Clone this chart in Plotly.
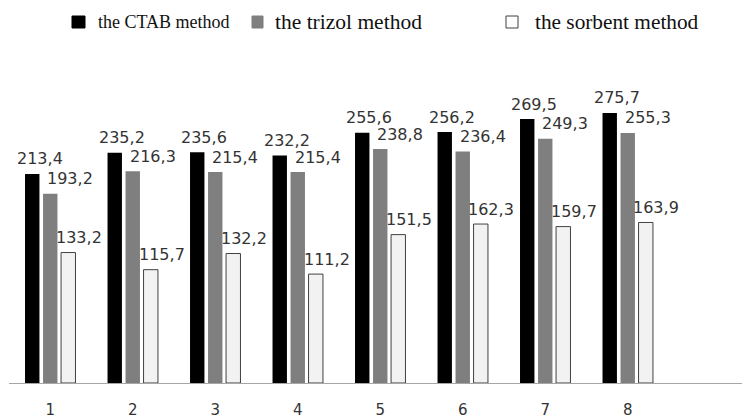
import plotly.graph_objects as go

categories = [1, 2, 3, 4, 5, 6, 7, 8]
tick_labels = ["1", "2", "3", "4", "5", "6", "7", "8"]
ctab = [213.4, 235.2, 235.6, 232.2, 255.6, 256.2, 269.5, 275.7]
trizol = [193.2, 216.3, 215.4, 215.4, 238.8, 236.4, 249.3, 255.3]
sorbent = [133.2, 115.7, 132.2, 111.2, 151.5, 162.3, 159.7, 163.9]
series_names = ["the CTAB method", "the trizol method", "the sorbent method"]

fig = go.Figure()
fig.add_trace(go.Bar(x=categories, y=ctab, name=series_names[0],
                     marker=dict(color="#000000", line=dict(width=0))))
fig.add_trace(go.Bar(x=categories, y=trizol, name=series_names[1],
                     marker=dict(color="#7f7f7f", line=dict(width=0))))
fig.add_trace(go.Bar(x=categories, y=sorbent, name=series_names[2],
                     marker=dict(color="#f2f2f2", line=dict(color="#404040", width=1))))

def fmt(v):
    return f"{v:.1f}".replace(".", ",")

# value labels (offset to the right of each bar as in the reference)
offsets = [(-0.1667, 3), (0.0, 20), (0.1667, 15)]
annotations = []
for vals, (dx, xs) in zip([ctab, trizol, sorbent], offsets):
    for c, v in zip(categories, vals):
        annotations.append(dict(
            x=c + dx, y=v, xref="x", yref="y", text=fmt(v), showarrow=False,
            xanchor="center", yanchor="middle", xshift=xs, yshift=15,
            font=dict(family="DejaVu Sans", size=16, color="#333333")))

# legend (drawn manually to mimic the mixed font sizes)
legend_items = [
    (72, 85, "#000000", None, 96, series_names[0], 18),
    (252, 263, "#7f7f7f", None, 273, series_names[1], 21.5),
    (506, 518, "#ffffff", "#404040", 533, series_names[2], 21.3),
]
shapes = []
for x0, x1, fc, lc, tx, name, fs in legend_items:
    shapes.append(dict(type="rect", xref="paper", yref="paper",
                       x0=(x0 - 9) / 733, x1=(x1 - 9) / 733,
                       y0=(383 - 28) / 333, y1=(383 - 16) / 333,
                       fillcolor=fc,
                       line=dict(color=lc if lc else fc, width=1)))
    annotations.append(dict(x=(tx - 9) / 733, y=(383 - 22) / 333, xref="paper", yref="paper",
                            text=name, showarrow=False, xanchor="left", yanchor="middle",
                            font=dict(family="Liberation Serif", size=fs, color="#111111")))

fig.update_layout(
    width=742, height=419,
    margin=dict(l=9, r=0, t=50, b=36, autoexpand=False),
    paper_bgcolor="white", plot_bgcolor="white",
    barmode="group", bargap=0.345, bargroupgap=0.2,
    showlegend=False,
    annotations=annotations, shapes=shapes,
    xaxis=dict(range=[0.5, 9.385], tickmode="array", tickvals=categories, ticktext=tick_labels,
               showgrid=False, zeroline=False, showline=True, linecolor="#a6a6a6", linewidth=1,
               ticks="", ticklabelstandoff=13,
               tickfont=dict(family="DejaVu Sans", size=15, color="#333333")),
    yaxis=dict(range=[0, 340], visible=False, showgrid=False, zeroline=False),
)

fig.write_html("out.html",
               config={"displayModeBar": False},
               post_script="document.body.style.margin='0';document.body.style.overflow='hidden';")
